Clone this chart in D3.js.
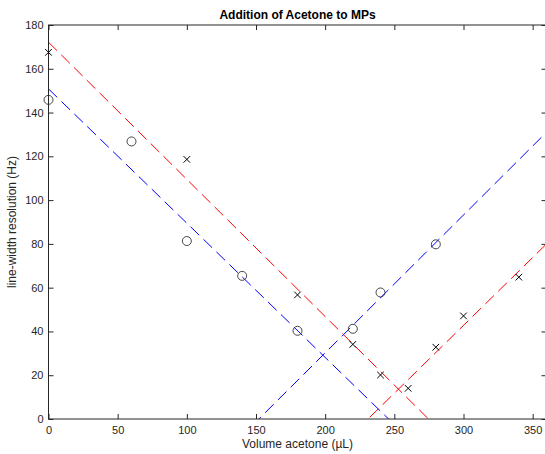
<!DOCTYPE html>
<html>
<head>
<meta charset="utf-8">
<script src="https://cdn.jsdelivr.net/npm/d3@7"></script>
<style>
  html, body { margin: 0; padding: 0; background: #fff; }
  svg { display: block; font-family: "Liberation Sans", Arial, Helvetica, sans-serif; }
</style>
</head>
<body>
<svg id="chart" width="545" height="454"></svg>
<script>
// Linewidth of the MPs signal after each acetone addition (µL)
const circleX = [0, 60, 100, 140, 180, 220, 240, 280];
const circleY = [145.8, 126.8, 81.3, 65.4, 40.3, 41.2, 57.8, 79.8];
const crossX = [0, 100, 180, 220, 240, 260, 280, 300, 340];
const crossY = [167.5, 118.6, 56.7, 34.1, 20.1, 14.0, 32.8, 47.1, 64.8];

// Points used for each fitted branch: [first index, last index]
const circleFalling = [0, 4];
const circleRising = [5, 7];
const crossFalling = [0, 4];
const crossRising = [5, 8];

const xTicks = [0, 50, 100, 150, 200, 250, 300, 350];
const yTicks = [0, 20, 40, 60, 80, 100, 120, 140, 160, 180];

const titleText = "Addition of Acetone to MPs";
const xLabel = "Volume acetone (\u00B5L)";
const yLabel = "line-width resolution (Hz)";

const W = 545, H = 454;
const m = { left: 48.5, right: -1.5, top: 25, bottom: 35 };
const svg = d3.select("#chart");

const x = d3.scaleLinear().domain([0, 360]).range([m.left, W - m.right]);
const y = d3.scaleLinear().domain([0, 180]).range([H - m.bottom, m.top]);

// least-squares line through a slice of points
function fit(xs, ys, [a, b]) {
  const px = xs.slice(a, b + 1), py = ys.slice(a, b + 1);
  const mx = d3.mean(px), my = d3.mean(py);
  const sxy = d3.sum(px, (v, i) => (v - mx) * (py[i] - my));
  const sxx = d3.sum(px, v => (v - mx) * (v - mx));
  const k = sxy / sxx;
  return { k, b: my - k * mx };
}

svg.append("clipPath").attr("id", "plotclip")
  .append("rect")
  .attr("x", x(0)).attr("y", y(180))
  .attr("width", x(360) - x(0)).attr("height", y(0) - y(180));

const fits = [
  { f: fit(circleX, circleY, circleFalling), color: "#0000ff" },
  { f: fit(circleX, circleY, circleRising), color: "#0000ff" },
  { f: fit(crossX, crossY, crossFalling), color: "#ff0000" },
  { f: fit(crossX, crossY, crossRising), color: "#ff0000" }
];

const lineGen = d3.line().x(d => x(d[0])).y(d => y(d[1]));
const gLines = svg.append("g").attr("clip-path", "url(#plotclip)");
fits.forEach(({ f, color }) => {
  // extend the fitted line across the whole x range, clipped to the axes box
  const xs = [0, 360];
  gLines.append("path")
    .attr("d", lineGen(xs.map(v => [v, f.k * v + f.b])))
    .attr("fill", "none")
    .attr("stroke", color)
    .attr("stroke-width", 1)
    .attr("stroke-dasharray", "12,6");
});

// box and ticks
const axisColor = "#262626";
const gAx = svg.append("g");
gAx.append("rect")
  .attr("x", x(0)).attr("y", y(180))
  .attr("width", x(360) - x(0)).attr("height", y(0) - y(180))
  .attr("fill", "none").attr("stroke", axisColor).attr("stroke-width", 1);

const tickLen = 5;
const xAxisB = d3.axisBottom(x).tickValues(xTicks).tickSizeInner(-tickLen).tickSizeOuter(0).tickPadding(7);
const xAxisT = d3.axisTop(x).tickValues(xTicks).tickSizeInner(-tickLen).tickSizeOuter(0).tickFormat("");
const yAxisL = d3.axisLeft(y).tickValues(yTicks).tickSizeInner(-tickLen).tickSizeOuter(0).tickPadding(5);
const yAxisR = d3.axisRight(y).tickValues(yTicks).tickSizeInner(-tickLen).tickSizeOuter(0).tickFormat("");

function style(g) {
  g.select(".domain").remove();
  g.selectAll("line").attr("stroke", axisColor);
  g.selectAll("text").attr("fill", axisColor).style("font-size", "11px")
    .style("font-family", "Liberation Sans, Arial, sans-serif");
}
gAx.append("g").attr("transform", `translate(0,${y(0)})`).call(xAxisB).call(style);
gAx.append("g").attr("transform", `translate(0,${y(180)})`).call(xAxisT).call(style);
gAx.append("g").attr("transform", `translate(${x(0)},0)`).call(yAxisL).call(style);
gAx.append("g").attr("transform", `translate(${x(360)},0)`).call(yAxisR).call(style);

// markers
svg.append("g").selectAll("circle")
  .data(circleX.map((v, i) => [v, circleY[i]]))
  .join("circle")
  .attr("cx", d => x(d[0])).attr("cy", d => y(d[1]))
  .attr("r", 4.5)
  .attr("fill", "none").attr("stroke", "#333").attr("stroke-width", 0.9);

const cs = 3.3;
svg.append("g").selectAll("path")
  .data(crossX.map((v, i) => [v, crossY[i]]))
  .join("path")
  .attr("d", d => {
    const cx = x(d[0]), cy = y(d[1]);
    return `M${cx - cs},${cy - cs}L${cx + cs},${cy + cs}M${cx - cs},${cy + cs}L${cx + cs},${cy - cs}`;
  })
  .attr("stroke", "#000").attr("stroke-width", 1).attr("fill", "none");

// title and axis labels
svg.append("text")
  .attr("x", (x(0) + x(360)) / 2).attr("y", 19)
  .attr("text-anchor", "middle")
  .style("font-size", "12px").style("font-weight", "bold")
  .attr("fill", "#000")
  .text(titleText);

svg.append("text")
  .attr("x", (x(0) + x(360)) / 2).attr("y", 448)
  .attr("text-anchor", "middle")
  .style("font-size", "12px")
  .attr("fill", axisColor)
  .text(xLabel);

svg.append("text")
  .attr("transform", `translate(16,${(y(0) + y(180)) / 2}) rotate(-90)`)
  .attr("text-anchor", "middle")
  .style("font-size", "12px")
  .attr("fill", axisColor)
  .text(yLabel);
</script>
</body>
</html>
